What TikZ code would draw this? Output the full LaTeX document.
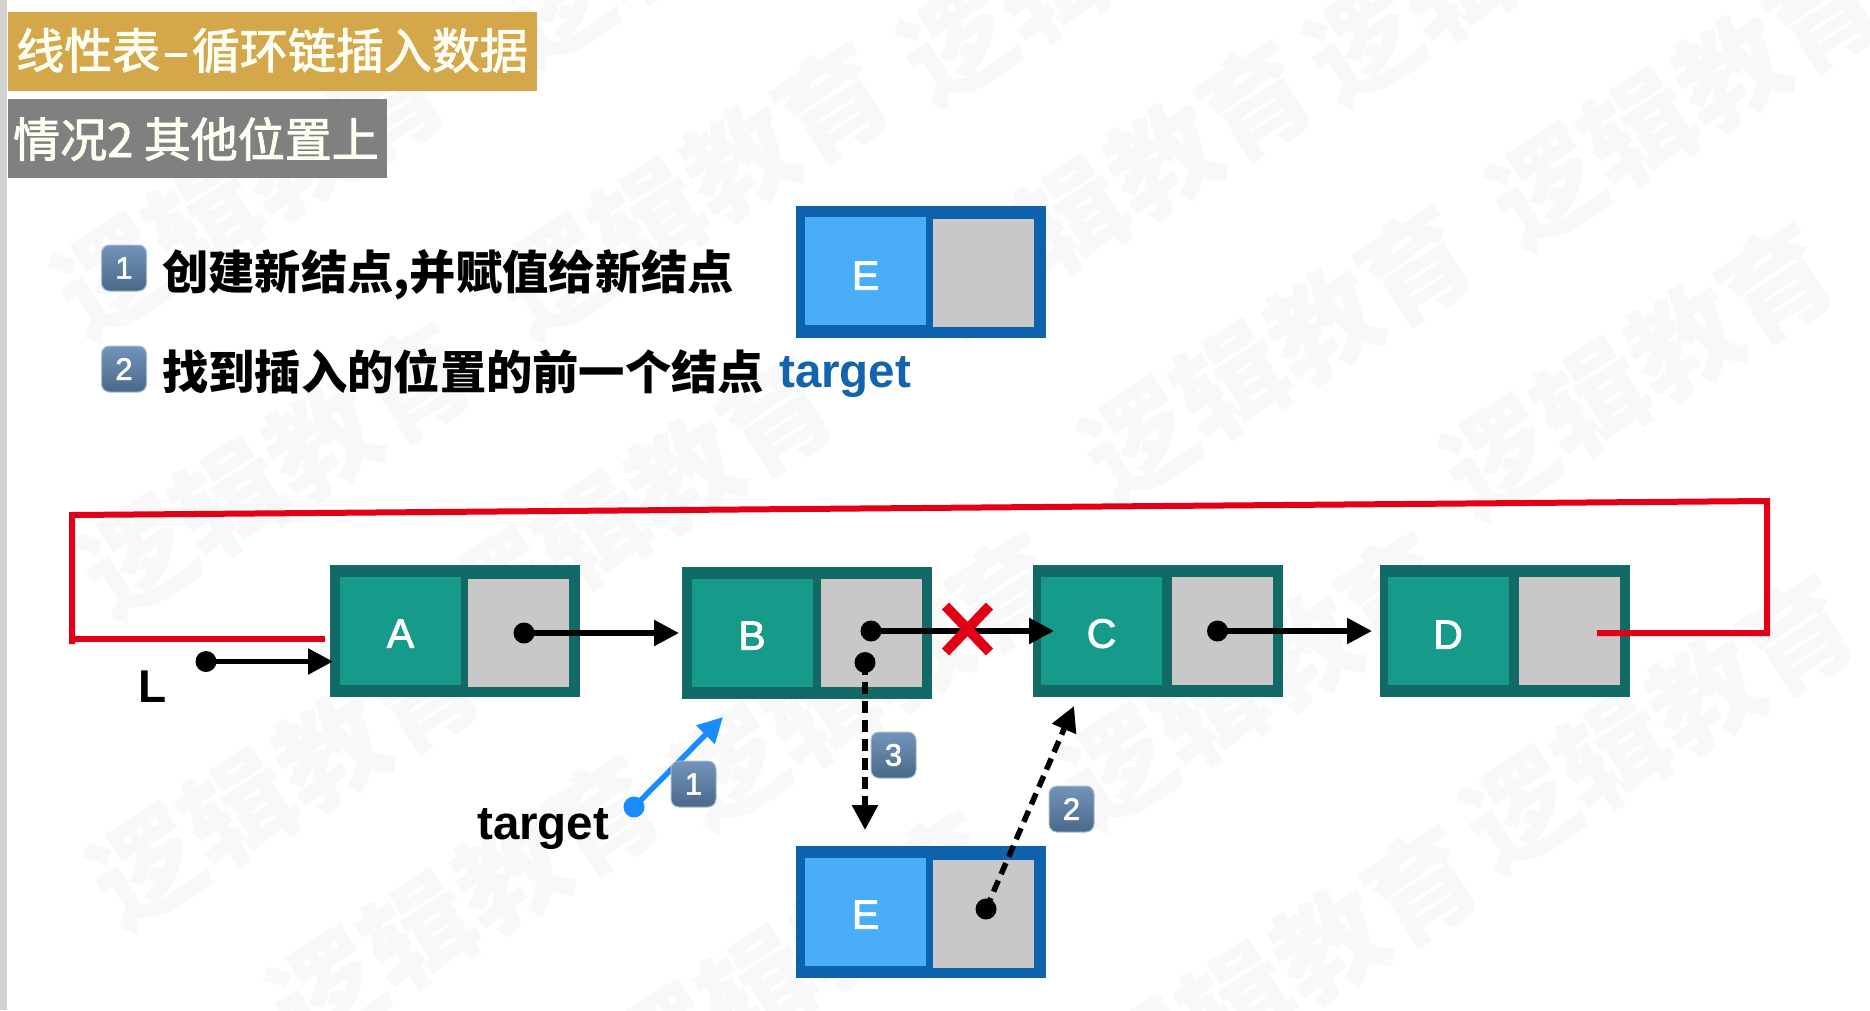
\documentclass[tikz,border=0pt]{standalone}
\usepackage{fontspec}
\setmainfont{Liberation Sans}
\newfontfamily\cjk{Noto Sans CJK SC}
\newfontfamily\cjkm[FakeBold=2]{Noto Sans CJK SC}
\newfontfamily\letterf[FakeBold=2]{Liberation Sans}
\usetikzlibrary{arrows.meta,shapes.misc,calc}
\definecolor{goldbar}{HTML}{D4A74A}
\definecolor{graybar}{HTML}{808080}
\definecolor{tealout}{HTML}{116A65}
\definecolor{tealin}{HTML}{169B8A}
\definecolor{cellgray}{HTML}{C9C7C8}
\definecolor{blueout}{HTML}{0C62AD}
\definecolor{bluein}{HTML}{49ADFA}
\definecolor{linkred}{HTML}{E30016}
\definecolor{arrowblue}{HTML}{1A8CFF}
\definecolor{targetblue}{HTML}{1463AD}
\definecolor{wmark}{HTML}{F8F8F8}
\definecolor{badgeA}{HTML}{7394BA}
\definecolor{badgeB}{HTML}{4A6889}
\definecolor{badgeE}{HTML}{A7BDD4}
\newcommand{\fsz}[1]{\fontsize{#1}{#1}\selectfont}
\newcommand{\lowlet}[2]{\raisebox{\dimexpr-14.7pt-#1pt\relax}{#2}}
\tikzset{
  box/.style={rectangle,inner sep=0pt,outer sep=0pt,minimum width=250pt,minimum height=132pt},
  cellv/.style={rectangle,inner sep=0pt,outer sep=0pt,minimum width=121pt,minimum height=108pt,text height=20pt,text depth=20pt,text=white,font=\letterf\fsz{41}},
  celln/.style={rectangle,inner sep=0pt,outer sep=0pt,minimum width=101pt,minimum height=108pt,fill=cellgray},
  dot/.style={circle,inner sep=0pt,outer sep=0pt,minimum size=21pt,fill=black},
  link/.style={line width=5.5pt,black,-{Triangle[length=25pt,width=25pt]}},
  dashlink/.style={link,dash pattern=on 12pt off 7pt},
  redline/.style={line width=6pt,linkred,line join=miter},
  badge/.style={rectangle,rounded corners=8pt,inner sep=0pt,minimum width=45pt,minimum height=46pt,draw=badgeE,line width=1pt,top color=badgeA,bottom color=badgeB,text=white,font=\letterf\fsz{31}},
  bar/.style={rectangle,inner sep=0pt,outer sep=0pt,anchor=north west},
  title/.style={anchor=base west,inner sep=0pt,font=\cjkm\fsz{48},text=white!95!yellow},
  step text/.style={anchor=base west,inner sep=0pt,font=\cjk\bfseries\fsz{46.3},text=black},
  label text/.style={anchor=base west,inner sep=0pt,font=\bfseries\fsz{47.5}},
  wm/.style={anchor=center,inner sep=0pt,rotate=32,text=wmark,font=\cjk\bfseries\fsz{109}},
}
\begin{document}
\begin{tikzpicture}[x=1pt,y=-1pt]
\useasboundingbox (0,0) rectangle (1870,1010);
\fill[white] (0,0) rectangle (1870,1010);
% watermark
\foreach \wx/\wy [count=\wi] in {112/277,556/277,979/275,1364/43,958/43,556/5,138/557,500/590,1139/440,1500/457,1547/187,147/867,730/767,1118/767,1521/810,327/990,665/1045,1145/1060}{
  \node[wm] (wm\wi) at ({\wx+138},{\wy-87}) {逻辑教育};
}
\fill[gray!35] (0,0) rectangle (7,1010);
% title bars
\node[bar,fill=goldbar,minimum width=529pt,minimum height=79pt] (h1) at (8,12) {};
\node[bar,fill=graybar,minimum width=379pt,minimum height=79pt] (h2) at (8,99) {};
\node[title] (h1t) at (16,68.5) {线性表\kern3pt–\kern3pt循环链插入数据};
\node[title,font=\cjkm\fsz{47}] (h2t) at (13,157) {情况2 其他位置上};
% steps
\node[badge] (s1) at (124,268) {1};
\node[badge] (s2) at (124,369) {2};
\node[step text] (s1t) at (162,289.5) {创建新结点,并赋值给新结点};
\node[step text] (s2t) at (162,389) {找到插入的位置的前一个结点};
\node[label text,text=targetblue] (s2g) at (779,387) {target};
% top E
\node[box,fill=blueout] (E0) at (920.5,271.5) {};
\node[cellv,fill=bluein] (E0v) at (865.5,271) {\lowlet{4}{E}};
\node[celln] (E0n) at (983.5,273) {};
% list
\node[box,fill=tealout] (A) at (455,631) {};
\node[cellv,fill=tealin] (Av) at (400.5,631) {\lowlet{2}{A}};
\node[celln] (An) at (518.5,633) {};
\node[box,fill=tealout] (B) at (806.5,633) {};
\node[cellv,fill=tealin] (Bv) at (752,633) {\lowlet{2}{B}};
\node[celln] (Bn) at (871.5,633) {};
\node[box,fill=tealout] (C) at (1158,631) {};
\node[cellv,fill=tealin] (Cv) at (1101.5,631) {\lowlet{2}{C}};
\node[celln] (Cn) at (1222.5,631) {};
\node[box,fill=tealout] (D) at (1505,631) {};
\node[cellv,fill=tealin] (Dv) at (1448,631) {\lowlet{3}{D}};
\node[celln] (Dn) at (1569.5,631) {};
% bottom E
\node[box,fill=blueout] (E1) at (920.5,912) {};
\node[cellv,fill=bluein] (E1v) at (865.5,912) {\lowlet{2}{E}};
\node[celln] (E1n) at (983.5,913.5) {};
% red loop
\coordinate (rD) at (1597,633);
\coordinate (rR) at (1767,633);
\coordinate (rT) at (1767,501);
\coordinate (rL) at (72,515);
\coordinate (rB) at (72,644);
\coordinate (rJ) at (72,639);
\coordinate (rA) at (325,639);
\draw[redline] (rD) -- (rR) -- (rT) -- (rL) -- (rB);
\draw[redline] (rJ) -- (rA);
% links
\node[dot] (dA) at (524,633) {};
\node[dot] (dB) at (871,631) {};
\node[dot] (dC) at (1217.5,631) {};
\node[dot] (dL) at (206,661.5) {};
\node[dot] (dB2) at (865,662.5) {};
\node[dot] (dE) at (986,909) {};
\node[dot,fill=arrowblue] (dT) at (634,807) {};
\coordinate (tipB) at (679,633);
\coordinate (tipC) at (1054,631);
\coordinate (tipD) at (1372,631);
\coordinate (tipA) at (333,661.5);
\coordinate (tipE) at (865,830);
\coordinate (tipC2) at (1074,706);
\coordinate (tipT) at (723,717);
\draw[link] (dA.center) -- (tipB);
\draw[link] (dB.center) -- (tipC);
\draw[link] (dC.center) -- (tipD);
\draw[link] (dL.center) -- (tipA);
\draw[dashlink] (dB2.center) -- (tipE);
\draw[dashlink] (dE.center) -- (tipC2);
\draw[link,arrowblue] (dT.center) -- (tipT);
\node[cross out,draw=linkred,line width=10pt,inner sep=0pt,minimum width=34pt,minimum height=36pt] (X) at (967.5,629) {};
% labels
\node[label text,font=\bfseries\fsz{46}] (Ll) at (138,702) {L};
\node[label text] (Tl) at (477,839) {target};
\node[badge] (b1) at (693.5,784) {1};
\node[badge] (b3) at (893.5,755) {3};
\node[badge] (b2) at (1071.5,809) {2};
\end{tikzpicture}
\end{document}
